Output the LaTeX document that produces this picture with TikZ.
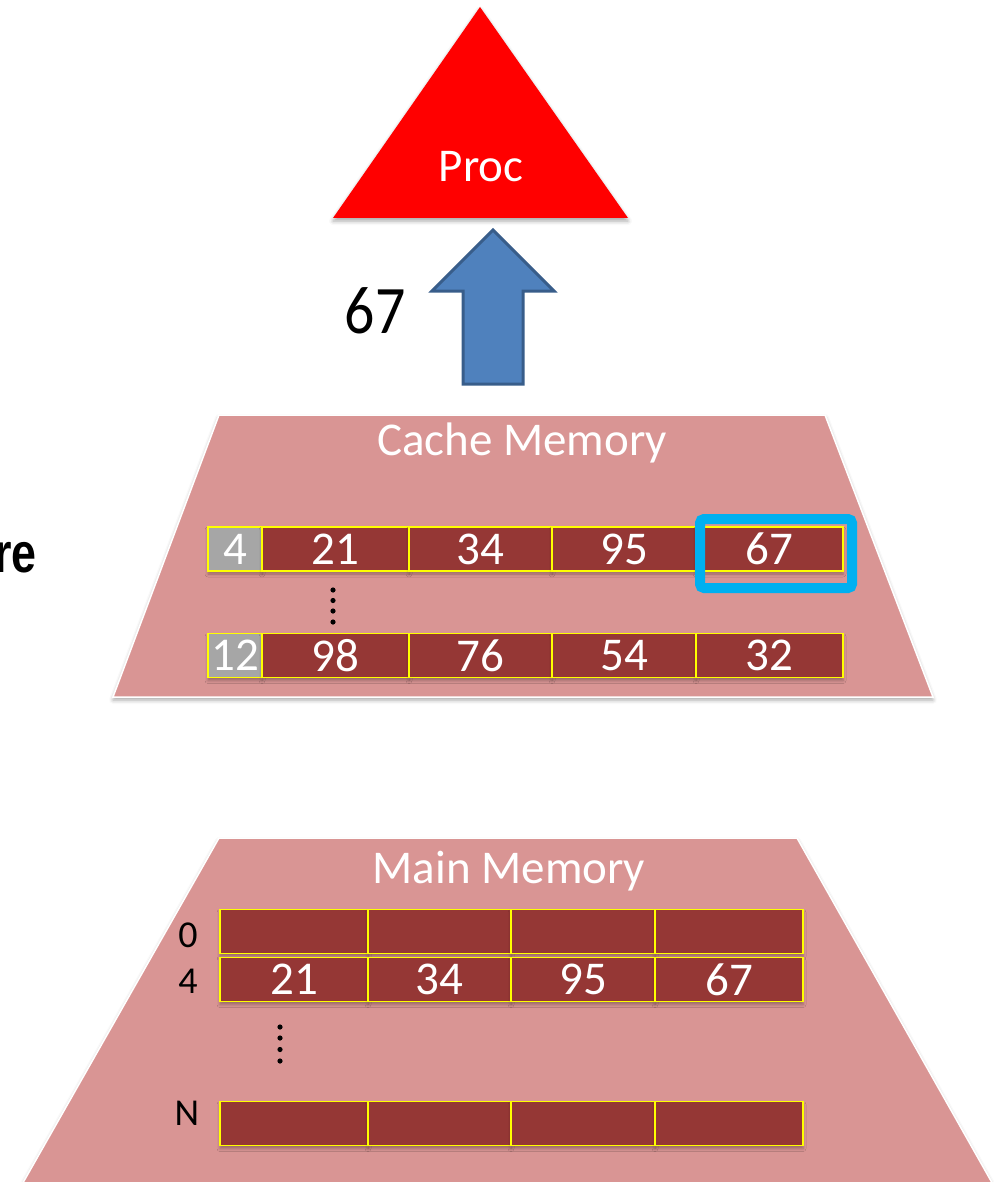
\documentclass[tikz,border=0pt]{standalone}
\usepackage{fontspec}
\usepackage{graphicx}
\setmainfont{Carlito}
\newfontfamily\titlefont{Liberation Sans}
\usetikzlibrary{shadows.blur}

\definecolor{procred}{HTML}{FF0000}
\definecolor{tierpink}{HTML}{D99594}
\definecolor{cellred}{HTML}{953735}
\definecolor{cellline}{HTML}{FFFF00}
\definecolor{taggray}{HTML}{A6A6A6}
\definecolor{arrowfill}{HTML}{4F81BD}
\definecolor{arrowline}{HTML}{385D8A}
\definecolor{hitblue}{HTML}{00B0F0}

\begin{document}
\begin{tikzpicture}[x=1pt,y=-1pt,
  tier/.style={fill=tierpink, draw=white, line width=1.5pt,
    blur shadow={shadow xshift=0pt, shadow yshift=-3pt, shadow blur radius=4pt, shadow opacity=35}},
  cell/.style={rectangle, draw=cellline, fill=cellred, line width=1.6pt,
    minimum height=44pt, inner sep=0pt, text=white,
    font=\fontsize{47}{47}\selectfont,
    blur shadow={shadow xshift=0pt, shadow yshift=-3pt, shadow blur radius=3pt, shadow opacity=30}},
  tagcell/.style={cell, fill=taggray, minimum width=54pt},
  tierlabel/.style={anchor=base, text=white, inner sep=0pt, font=\fontsize{47}{47}\selectfont},
  addr/.style={anchor=base, inner sep=0pt, font=\fontsize{38}{38}\selectfont},
  dot/.style={fill=black}
]
\useasboundingbox (0,0) rectangle (994,1182);
\clip (0,0) rectangle (994,1182);

% processor
\fill[procred, blur shadow={shadow xshift=0pt, shadow yshift=-3pt, shadow blur radius=4pt, shadow opacity=35}]
  (480,7) -- (628,218) -- (333,218) -- cycle;
\node[tierlabel] (proc) at (481,182) {Proc};

% value returned to the processor
\draw[arrowline, fill=arrowfill, line width=3pt, line join=miter]
  (493,230) -- (554,291) -- (523,291) -- (523,384) -- (463,384) -- (463,291) -- (432,291) -- cycle;
\node[anchor=base, inner sep=0pt] (retval) at (375,333)
  {\scalebox{0.88}[1]{\fontsize{68}{68}\selectfont 67}};

% cache tier
\path[tier] (219,415) -- (825,415) -- (933,697) -- (113,697) -- cycle;
\node[tierlabel] (cachelabel) at (522,455) {Cache Memory};

\node[tagcell] (ctag1) at (235,549) {4};
\node[cell, minimum width=147pt] (c11) at (335.5,549) {21};
\node[cell, minimum width=143pt] (c12) at (480.5,549) {34};
\node[cell, minimum width=144pt] (c13) at (624,549) {95};
\node[cell, minimum width=147pt] (c14) at (769.5,549) {67};

\node[tagcell] (ctag2) at (235,655.5) {12};
\node[cell, minimum width=147pt] (c21) at (335.5,655.5) {98};
\node[cell, minimum width=143pt] (c22) at (480.5,655.5) {76};
\node[cell, minimum width=144pt] (c23) at (624,655.5) {54};
\node[cell, minimum width=147pt] (c24) at (769.5,655.5) {32};

\foreach \y in {590,600.5,611,622} \fill[dot] (333,\y) circle (2.6pt);

% hit in the cache
\draw[hitblue, line width=10pt, rounded corners=4pt] (700,519) rectangle (852,588);

% main memory tier
\path[tier] (219,838) -- (797,838) -- (995,1188) -- (20,1188) -- cycle;
\node[tierlabel] (mainlabel) at (509,883) {Main Memory};

\node[addr] (a0) at (188,947) {0};
\node[cell, minimum width=148pt] (m01) at (294,931.5) {};
\node[cell, minimum width=143pt] (m02) at (439.5,931.5) {};
\node[cell, minimum width=144pt] (m03) at (583,931.5) {};
\node[cell, minimum width=148pt] (m04) at (729,931.5) {};

\node[addr] (a4) at (188,993) {4};
\node[cell, minimum width=148pt] (m41) at (294,979.5) {21};
\node[cell, minimum width=143pt] (m42) at (439.5,979.5) {34};
\node[cell, minimum width=144pt] (m43) at (583,979.5) {95};
\node[cell, minimum width=148pt] (m44) at (729,979.5) {67};

\foreach \y in {1027,1038,1049.5,1061} \fill[dot] (280,\y) circle (2.6pt);

\node[addr] (aN) at (187,1125) {N};
\node[cell, minimum width=148pt] (mN1) at (294,1123.5) {};
\node[cell, minimum width=143pt] (mN2) at (439.5,1123.5) {};
\node[cell, minimum width=144pt] (mN3) at (583,1123.5) {};
\node[cell, minimum width=148pt] (mN4) at (729,1123.5) {};

% tail of the heading at the left edge
\node[anchor=base east, inner sep=0pt] (heading) at (37,572)
  {\scalebox{0.8}[1]{\titlefont\bfseries\fontsize{56}{56}\selectfont re}};
\end{tikzpicture}
\end{document}
